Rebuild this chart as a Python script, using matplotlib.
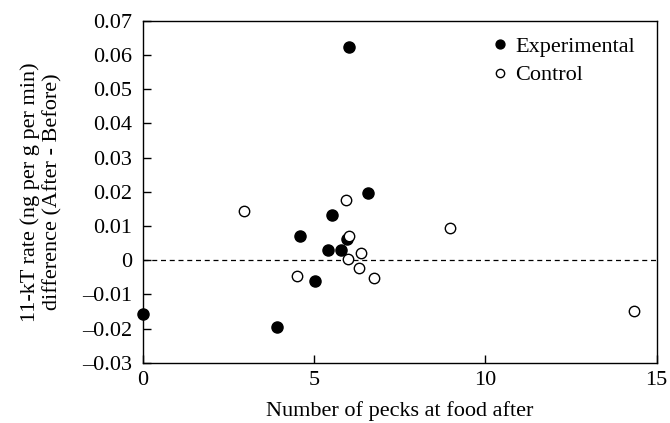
import matplotlib
matplotlib.use('Agg')
import matplotlib.pyplot as plt
from matplotlib.ticker import FuncFormatter

plt.rcParams['font.family'] = ['Liberation Serif', 'DejaVu Serif']

# Experimental fish
exp_pecks = [0.0, 3.91, 4.59, 5.03, 5.40, 5.53, 5.78, 5.95, 6.58, 6.03]
exp_diff = [-0.0157, -0.0195, 0.0072, -0.0061, 0.0031, 0.0131, 0.0031, 0.0063, 0.0196, 0.0623]

# Control fish
ctl_pecks = [2.94, 4.51, 5.92, 6.02, 6.00, 6.37, 6.32, 6.76, 8.96, 14.35]
ctl_diff = [0.0143, -0.0046, 0.0175, 0.0070, 0.0004, 0.0022, -0.0022, -0.0051, 0.0093, -0.0149]

x_ticks = [0, 5, 10, 15]
y_ticks = [-0.03, -0.02, -0.01, 0, 0.01, 0.02, 0.03, 0.04, 0.05, 0.06, 0.07]

FS = 16

fig = plt.figure(figsize=(6.7, 4.23), dpi=100)
ax = fig.add_axes([0.2134, 0.1425, 0.7666, 0.8085])

ax.axhline(0, color='black', linestyle=(0, (4, 3)), linewidth=0.9, zorder=1)
ax.plot(exp_pecks, exp_diff, 'o', color='black', markersize=8, label='Experimental',
        clip_on=False, zorder=3)
ax.plot(ctl_pecks, ctl_diff, 'o', markerfacecolor='white', markeredgecolor='black',
        markeredgewidth=1.0, markersize=7.5, label='Control', clip_on=False, zorder=3)

ax.set_xlim(0, 15)
ax.set_ylim(-0.03, 0.07)
ax.set_xticks(x_ticks)
ax.set_yticks(y_ticks)


def yfmt(v, pos):
    if abs(v) < 1e-9:
        return '0'
    s = f'{abs(v):.2f}'
    return ('\u2013' + s) if v < 0 else s


ax.yaxis.set_major_formatter(FuncFormatter(yfmt))
ax.tick_params(axis='y', direction='in', length=6, width=1, labelsize=FS, pad=8,
               right=False)
ax.tick_params(axis='x', direction='in', length=6, width=1, labelsize=FS, pad=6,
               top=False)
for sp in ax.spines.values():
    sp.set_linewidth(1.0)

ax.set_xlabel('Number of pecks at food after', fontsize=FS, labelpad=8)
ax.set_ylabel('11-kT rate (ng per g per min)\ndifference (After - Before)', fontsize=FS,
              labelpad=14, linespacing=1.2)

ax.legend(loc='upper right', bbox_to_anchor=(0.975, 0.98), frameon=False, fontsize=FS,
          handletextpad=0.2, markerscale=0.8, borderaxespad=0.0, labelspacing=0.35,
          handlelength=1.0)

fig.savefig('out.png', dpi=100)
